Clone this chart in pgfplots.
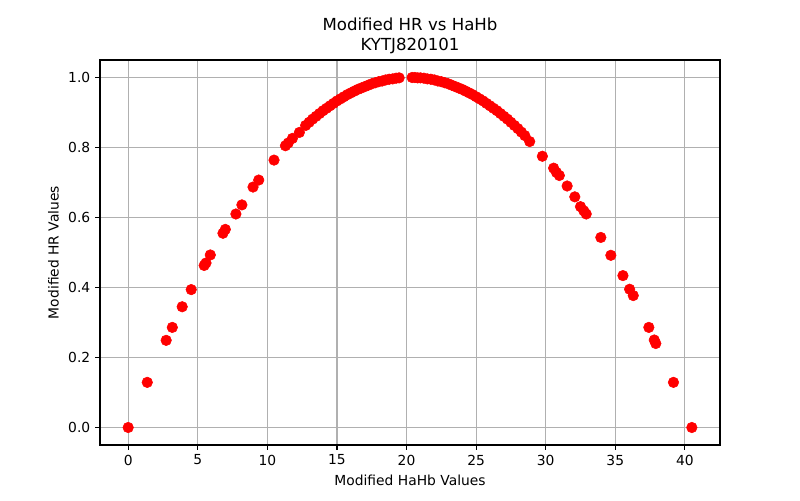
\documentclass[border=0pt]{standalone}
\usepackage{pgfplots}
\pgfplotsset{compat=1.18}
\usepackage{fontspec}
\setmainfont{DejaVu Sans}
\begin{document}
\begin{tikzpicture}[x=1bp,y=1bp]
\useasboundingbox (0,0) rectangle (576,360);
\begin{axis}[
  at={(72bp,39.6bp)}, anchor=south west,
  scale only axis, width=446.4bp, height=277.2bp,
  xmin=-2.025, xmax=42.525, ymin=-0.05, ymax=1.05,
  xtick={0,5,...,40}, ytick={0,0.2,0.4,0.6,0.8,1.0},
  yticklabel style={/pgf/number format/.cd,fixed,fixed zerofill,precision=1},
  /pgf/number format/assume math mode=true,
  tick label style={font=\fontsize{10}{12}\selectfont},
  label style={font=\fontsize{10}{12}\selectfont},
  title style={font=\fontsize{12}{14.4}\selectfont, align=center, yshift=-5bp},
  title={Modified HR vs HaHb\\KYTJ820101},
  xlabel={Modified HaHb Values}, ylabel={Modified HR Values},
  xlabel style={yshift=0bp},
  axis on top,
  grid=major, grid style={color=black!31, line width=0.8bp},
  axis line style={line width=0.8bp},
  tick style={black, line width=0.8bp},
  tick align=outside, major tick length=3.5bp,
  xtick pos=bottom, ytick pos=left,
]
\addplot[only marks, mark=*, mark size=3.8bp, color=red, mark options={fill=red, draw=red}] coordinates {
(0,0) (1.37,0.129) (2.73,0.249) (3.17,0.286) (3.88,0.345) (4.53,0.394)
(5.46,0.463) (5.59,0.470) (5.90,0.493) (6.81,0.555) (6.98,0.566)
(7.74,0.610) (8.17,0.636) (8.97,0.687) (9.38,0.707) (10.48,0.764)
(11.3,0.805) (11.5,0.813) (11.8,0.826) (12.3,0.843)
(12.75,0.863) (13.0,0.872) (13.25,0.881) (13.5,0.889) (13.75,0.897)
(14.0,0.905) (14.25,0.912) (14.5,0.919) (14.75,0.926) (15.0,0.933)
(15.25,0.939) (15.5,0.945) (15.75,0.951) (16.0,0.956) (16.25,0.961)
(16.5,0.966) (16.75,0.970) (17.0,0.974) (17.25,0.978) (17.5,0.982)
(17.75,0.985) (18.0,0.988) (18.25,0.990) (18.5,0.993) (18.75,0.995)
(19.0,0.996) (19.25,0.998) (19.47,0.999)
(20.4,1.000) (20.6,1.000) (20.8,0.999) (21.0,0.999)
(21.25,0.998) (21.5,0.996) (21.75,0.995) (22.0,0.993) (22.25,0.990)
(22.5,0.988) (22.75,0.985) (23.0,0.982) (23.25,0.978) (23.5,0.974)
(23.75,0.970) (24.0,0.966) (24.25,0.961) (24.5,0.956) (24.75,0.951)
(25.0,0.945) (25.25,0.939) (25.5,0.933) (25.75,0.926) (26.0,0.919)
(26.25,0.912) (26.5,0.905) (26.75,0.897) (27.0,0.889) (27.25,0.881)
(27.5,0.872) (27.75,0.863) (28.0,0.854) (28.25,0.844) (28.5,0.834)
(28.85,0.817) (29.76,0.775) (30.57,0.741) (30.77,0.729) (30.98,0.720)
(31.54,0.690) (32.09,0.659) (32.5,0.631) (32.74,0.619) (32.91,0.610)
(33.96,0.543) (34.68,0.492) (35.55,0.434) (36.03,0.395) (36.29,0.377)
(37.41,0.286) (37.8,0.250) (37.91,0.240) (39.18,0.129) (40.5,0)
};
\end{axis}
\end{tikzpicture}
\end{document}
